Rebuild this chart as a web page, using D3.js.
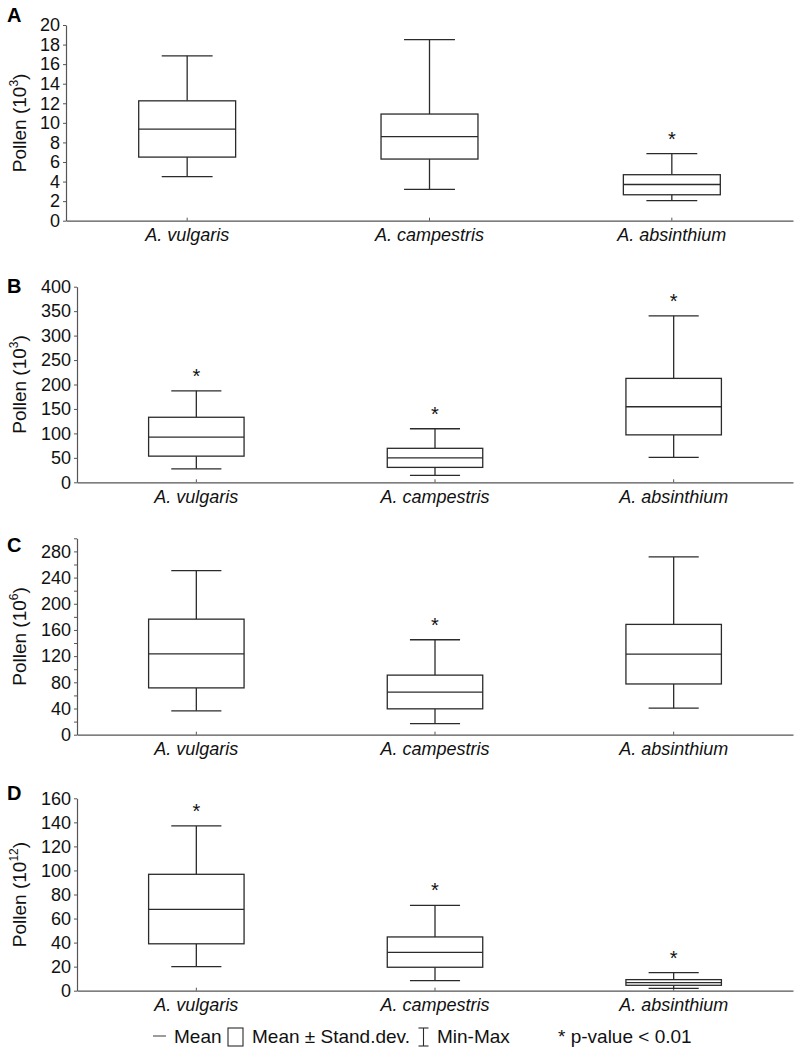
<!DOCTYPE html>
<html>
<head>
<meta charset="utf-8">
<script src="https://cdn.jsdelivr.net/npm/d3@7"></script>
<style>
    body { margin: 0; background: #fff; }
    svg { display: block; font-family: "Liberation Sans", Arial, sans-serif; }
</style>
</head>
<body>
<div id="chart"></div>
<script>
const species = ["A. vulgaris", "A. campestris", "A. absinthium"];
const panelLetters = ["A", "B", "C", "D"];
const unitExponents = ["3", "3", "6", "12"];

// y ticks per panel
const yTicksA = [0, 2, 4, 6, 8, 10, 12, 14, 16, 18, 20];
const yTicksB = [0, 50, 100, 150, 200, 250, 300, 350, 400];
const yTicksC = [0, 40, 80, 120, 160, 200, 240, 280];
const yTicksD = [0, 20, 40, 60, 80, 100, 120, 140, 160];
const yMinorC = [20, 60, 100, 140, 180, 220, 260, 300];
const yTops = [20, 400, 300, 160];

// one row per panel, one value per species
const minima = [[4.5, 3.2, 2.05], [27.5, 14, 51], [36.5, 17, 40.5], [20, 8.3, 2]];
const sdLow = [[6.5, 6.3, 2.65], [53.5, 30.5, 97], [71.5, 39.5, 77.5], [39, 19.5, 4.5]];
const means = [[9.35, 8.6, 3.7], [92.5, 50, 154.5], [123.5, 65, 123], [67.7, 31.9, 6.7]];
const sdHigh = [[12.25, 10.9, 4.7], [133, 69.5, 212.5], [176.5, 91, 168.5], [96.8, 44.7, 9.2]];
const maxima = [[16.85, 18.5, 6.85], [187, 109.5, 340.5], [250.5, 145, 271.5], [137, 71, 15]];
const significant = [[false, false, true], [true, true, true], [false, true, false], [true, true, true]];

const legendItems = ["Mean", "Mean \u00b1 Stand.dev.", "Min-Max"];
const noteText = "* p-value < 0.01";

const W = 795, H = 1051;
const ink = "#2b2b2b";
const axisInk = "#555";

// panel frames (pixels)
const frames = [
    { left: 66, top: 25, bottom: 220.7, letterY: 22, ticks: yTicksA, minor: [] },
    { left: 77, top: 286.7, bottom: 482.3, letterY: 293, ticks: yTicksB, minor: [] },
    { left: 77, top: 538.3, bottom: 734.7, letterY: 552, ticks: yTicksC, minor: yMinorC },
    { left: 77, top: 798.3, bottom: 990.7, letterY: 800, ticks: yTicksD, minor: [] }
];
const rightEdge = 793;

let svg = d3.select("#chart").append("svg")
    .attr("width", W)
    .attr("height", H);

frames.forEach(function (f, p) {
    let x = d3.scaleBand().domain(species).range([f.left, rightEdge]).padding(0);
    let y = d3.scaleLinear().domain([0, yTops[p]]).range([f.bottom, f.top]);
    let bw = x.bandwidth();
    let boxW = bw * 0.4, capW = bw * 0.21;

    let g = svg.append("g").attr("class", "panel");

    // panel letter
    g.append("text")
        .attr("x", 7).attr("y", f.letterY)
        .attr("font-size", 20).attr("font-weight", "bold")
        .attr("fill", "#000")
        .text(panelLetters[p]);

    // y axis
    let yAxis = g.append("g")
        .attr("transform", `translate(${f.left},0)`)
        .call(d3.axisLeft(y).tickValues(f.ticks).tickFormat(d3.format("d")).tickSize(3).tickSizeOuter(0).tickPadding(3));
    if (f.minor.length) {
        g.append("g")
            .attr("transform", `translate(${f.left},0)`)
            .call(d3.axisLeft(y).tickValues(f.minor).tickFormat("").tickSize(3).tickSizeOuter(0))
            .call(a => a.select(".domain").remove())
            .selectAll("line").attr("stroke", axisInk);
    }
    yAxis.select(".domain").attr("stroke", axisInk).attr("stroke-width", 1.2);
    yAxis.selectAll(".tick line").attr("stroke", axisInk);
    yAxis.selectAll("text").attr("font-size", 18).attr("fill", "#111").attr("font-family", "Liberation Sans, Arial, sans-serif");

    // x axis
    let xAxis = g.append("g")
        .attr("transform", `translate(0,${f.bottom})`)
        .call(d3.axisBottom(x).tickSize(-3).tickSizeOuter(0).tickPadding(8));
    xAxis.select(".domain").attr("stroke", axisInk).attr("stroke-width", 1.2);
    xAxis.selectAll(".tick line").attr("stroke", axisInk);
    xAxis.selectAll("text").attr("font-size", 18).attr("font-style", "italic").attr("fill", "#111")
        .attr("font-family", "Liberation Sans, Arial, sans-serif");

    // y label with superscript
    let midY = (f.top + f.bottom) / 2;
    let lab = g.append("text")
        .attr("transform", `translate(26,${midY}) rotate(-90)`)
        .attr("text-anchor", "middle")
        .attr("font-size", 19)
        .attr("fill", "#111");
    lab.append("tspan").text("Pollen (10");
    lab.append("tspan").attr("font-size", 12).attr("dy", -8).text(unitExponents[p]);
    lab.append("tspan").attr("dy", 8).text(")");

    // boxes
    species.forEach(function (s, i) {
        let cx = x(s) + bw / 2;
        let bg = g.append("g").attr("stroke", ink).attr("stroke-width", 1.3).attr("fill", "none");
        // whiskers
        bg.append("line").attr("x1", cx).attr("x2", cx).attr("y1", y(maxima[p][i])).attr("y2", y(sdHigh[p][i]));
        bg.append("line").attr("x1", cx).attr("x2", cx).attr("y1", y(sdLow[p][i])).attr("y2", y(minima[p][i]));
        bg.append("line").attr("x1", cx - capW / 2).attr("x2", cx + capW / 2).attr("y1", y(maxima[p][i])).attr("y2", y(maxima[p][i]));
        bg.append("line").attr("x1", cx - capW / 2).attr("x2", cx + capW / 2).attr("y1", y(minima[p][i])).attr("y2", y(minima[p][i]));
        // sd box
        bg.append("rect")
            .attr("x", cx - boxW / 2)
            .attr("y", y(sdHigh[p][i]))
            .attr("width", boxW)
            .attr("height", y(sdLow[p][i]) - y(sdHigh[p][i]))
            .attr("fill", "#fff");
        // mean
        bg.append("line").attr("x1", cx - boxW / 2).attr("x2", cx + boxW / 2).attr("y1", y(means[p][i])).attr("y2", y(means[p][i]));

        if (significant[p][i]) {
            g.append("text")
                .attr("x", cx).attr("y", y(maxima[p][i]) - 8)
                .attr("text-anchor", "middle")
                .attr("font-size", 20)
                .attr("fill", "#111")
                .text("*");
        }
    });
});

// legend
let legend = svg.append("g").attr("class", "legend").attr("font-size", 19).attr("fill", "#111");
let ly = 1036, lb = 1043;
legend.append("line").attr("x1", 153).attr("x2", 166).attr("y1", ly).attr("y2", ly)
    .attr("stroke", "#666").attr("stroke-width", 1.3);
legend.append("text").attr("x", 174).attr("y", lb).text(legendItems[0]);
legend.append("rect").attr("x", 228).attr("y", 1028).attr("width", 15).attr("height", 18)
    .attr("fill", "#fff").attr("stroke", ink).attr("stroke-width", 1.1);
legend.append("text").attr("x", 252).attr("y", lb).text(legendItems[1]);
let iX = 423.5;
let iSym = legend.append("g").attr("stroke", ink).attr("stroke-width", 1.1);
iSym.append("line").attr("x1", iX).attr("x2", iX).attr("y1", 1028).attr("y2", 1046);
iSym.append("line").attr("x1", iX - 5).attr("x2", iX + 5).attr("y1", 1028).attr("y2", 1028);
iSym.append("line").attr("x1", iX - 5).attr("x2", iX + 5).attr("y1", 1046).attr("y2", 1046);
legend.append("text").attr("x", 437).attr("y", lb).text(legendItems[2]);
legend.append("text").attr("x", 558).attr("y", lb).text(noteText);
</script>
</body>
</html>
